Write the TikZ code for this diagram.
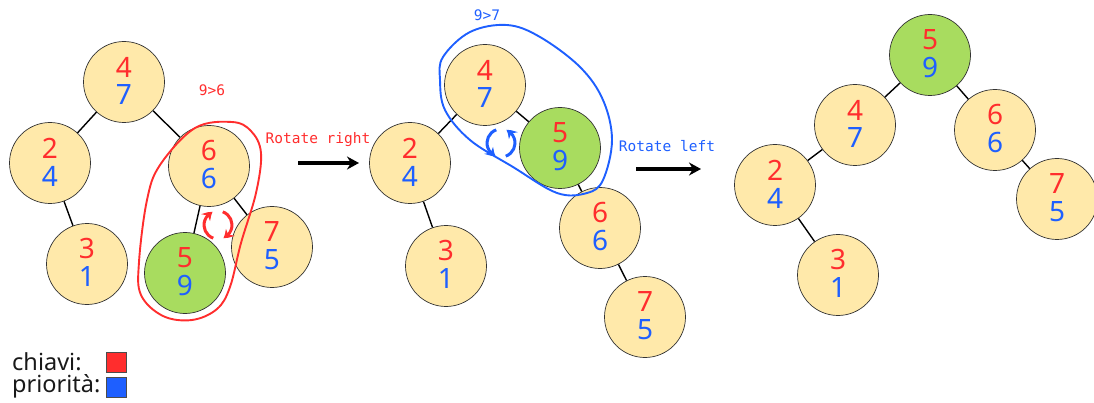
\documentclass[tikz,border=0pt]{standalone}
\usepackage{fontspec}
\setmainfont{Noto Sans}
\newfontfamily\monof{DejaVu Sans Mono}
\usetikzlibrary{arrows.meta,calc,bending}
\definecolor{kred}{RGB}{255,45,45}
\definecolor{kblue}{RGB}{30,95,255}
\definecolor{nyel}{RGB}{255,233,170}
\definecolor{ngreen}{RGB}{168,220,95}
\tikzset{
  tnode/.style={circle,draw=black!80,line width=0.7pt,fill=nyel,minimum size=81pt,inner sep=0pt},
  gnode/.style={tnode,fill=ngreen},
  keyt/.style={inner sep=0pt,text=kred,font=\fontsize{28}{28}\selectfont},
  prit/.style={inner sep=0pt,text=kblue,font=\fontsize{28}{28}\selectfont},
  edge/.style={draw=black,line width=1.4pt},
  bigarrow/.style={line width=3.2pt,-{Stealth[length=12pt,width=13pt]}},
  rot/.style={line width=3pt,-{Stealth[length=9pt,width=11pt,bend]}},
  loop/.style={line width=1.9pt},
  lbl/.style={font=\monof\fontsize{14.5}{16}\selectfont,inner sep=0pt},
  leg/.style={anchor=west,inner sep=0pt,font=\fontsize{23.5}{24}\selectfont,text=black!90},
  sq/.style={draw=black!70,minimum size=20pt,inner sep=0pt}
}
\newcommand{\tn}[5]{%
  \node[#2] (#1) at #3 {};
  \node[keyt] (#1k) at ($(#1.center)+(0,-15)$) {#4};
  \node[prit] (#1p) at ($(#1.center)+(0,13)$) {#5};}
\begin{document}
\begin{tikzpicture}[x=1pt,y=-1pt]
\useasboundingbox (0,0) rectangle (1094,403);
% Tree 1
\tn{a4}{tnode}{(124,82)}{4}{7}
\tn{a2}{tnode}{(50,163)}{2}{4}
\tn{a3}{tnode}{(87,264)}{3}{1}
\tn{a6}{tnode}{(209,166)}{6}{6}
\tn{a5}{gnode}{(185,273)}{5}{9}
\tn{a7}{tnode}{(272,247)}{7}{5}
\draw[edge] (a4) -- (a2);
\draw[edge] (a4) -- (a6);
\draw[edge] (a2) -- (a3);
\draw[edge] (a6) -- (a5);
\draw[edge] (a6) -- (a7);
% red loop
\draw[kred,loop] plot[smooth cycle,tension=0.6] coordinates {(232,122) (195,128) (160,165) (147,200) (139,262) (141,295) (163,316) (192,320) (217,309) (230,287) (241,243) (256,193) (261,153) (251,131)};
\coordinate (rc) at (218,225);
\draw[kred,rot] ($(rc)+(250:14pt)$) arc[start angle=250,end angle=112,radius=14pt];
\draw[kred,rot] ($(rc)+(70:14pt)$) arc[start angle=70,end angle=-68,radius=14pt];
\node[lbl,text=kred] (t96) at (212,90) {9>6};
\node[lbl,text=kred] (rr) at (318,140) {Rotate right};
\coordinate (r1) at (298,163);
\coordinate (r2) at (359,163);
\draw[bigarrow] (r1) -- (r2);
% Tree 2
\tn{b4}{tnode}{(485,85)}{4}{7}
\tn{b5}{gnode}{(560,148)}{5}{9}
\tn{b2}{tnode}{(410,163)}{2}{4}
\tn{b3}{tnode}{(446,266)}{3}{1}
\tn{b6}{tnode}{(600,228)}{6}{6}
\tn{b7}{tnode}{(645,317)}{7}{5}
\draw[edge] (b4) -- (b2);
\draw[edge] (b4) -- (b5);
\draw[edge] (b2) -- (b3);
\draw[edge] (b5) -- (b6);
\draw[edge] (b6) -- (b7);
\draw[kblue,loop] plot[smooth cycle,tension=0.6] coordinates {(443,57) (470,32) (507,25) (540,37) (580,67) (603,100) (612,140) (603,180) (587,193) (557,193) (513,167) (470,140) (445,110) (440,80)};
\coordinate (bc) at (501,143);
\draw[kblue,rot] ($(bc)+(-70:14pt)$) arc[start angle=-70,end angle=68,radius=14pt];
\draw[kblue,rot] ($(bc)+(110:14pt)$) arc[start angle=110,end angle=248,radius=14pt];
\node[lbl,text=kblue] (t97) at (487,15) {9>7};
\node[lbl,text=kblue] (rl) at (667,146) {Rotate left};
\coordinate (l1) at (636,169);
\coordinate (l2) at (701,169);
\draw[bigarrow] (l1) -- (l2);
% Tree 3
\tn{c5}{gnode}{(930,55)}{5}{9}
\tn{c4}{tnode}{(855,125)}{4}{7}
\tn{c6}{tnode}{(995,130)}{6}{6}
\tn{c2}{tnode}{(775,185)}{2}{4}
\tn{c7}{tnode}{(1057,199)}{7}{5}
\tn{c3}{tnode}{(838,275)}{3}{1}
\draw[edge] (c5) -- (c4);
\draw[edge] (c5) -- (c6);
\draw[edge] (c4) -- (c2);
\draw[edge] (c6) -- (c7);
\draw[edge] (c2) -- (c3);
% legend
\node[leg] (lk) at (12,362) {chiavi:};
\node[leg] (lp) at (12,386) {priorità:};
\node[sq,fill=kred] (sk) at (116,362) {};
\node[sq,fill=kblue] (sp) at (116,387) {};
\end{tikzpicture}
\end{document}
